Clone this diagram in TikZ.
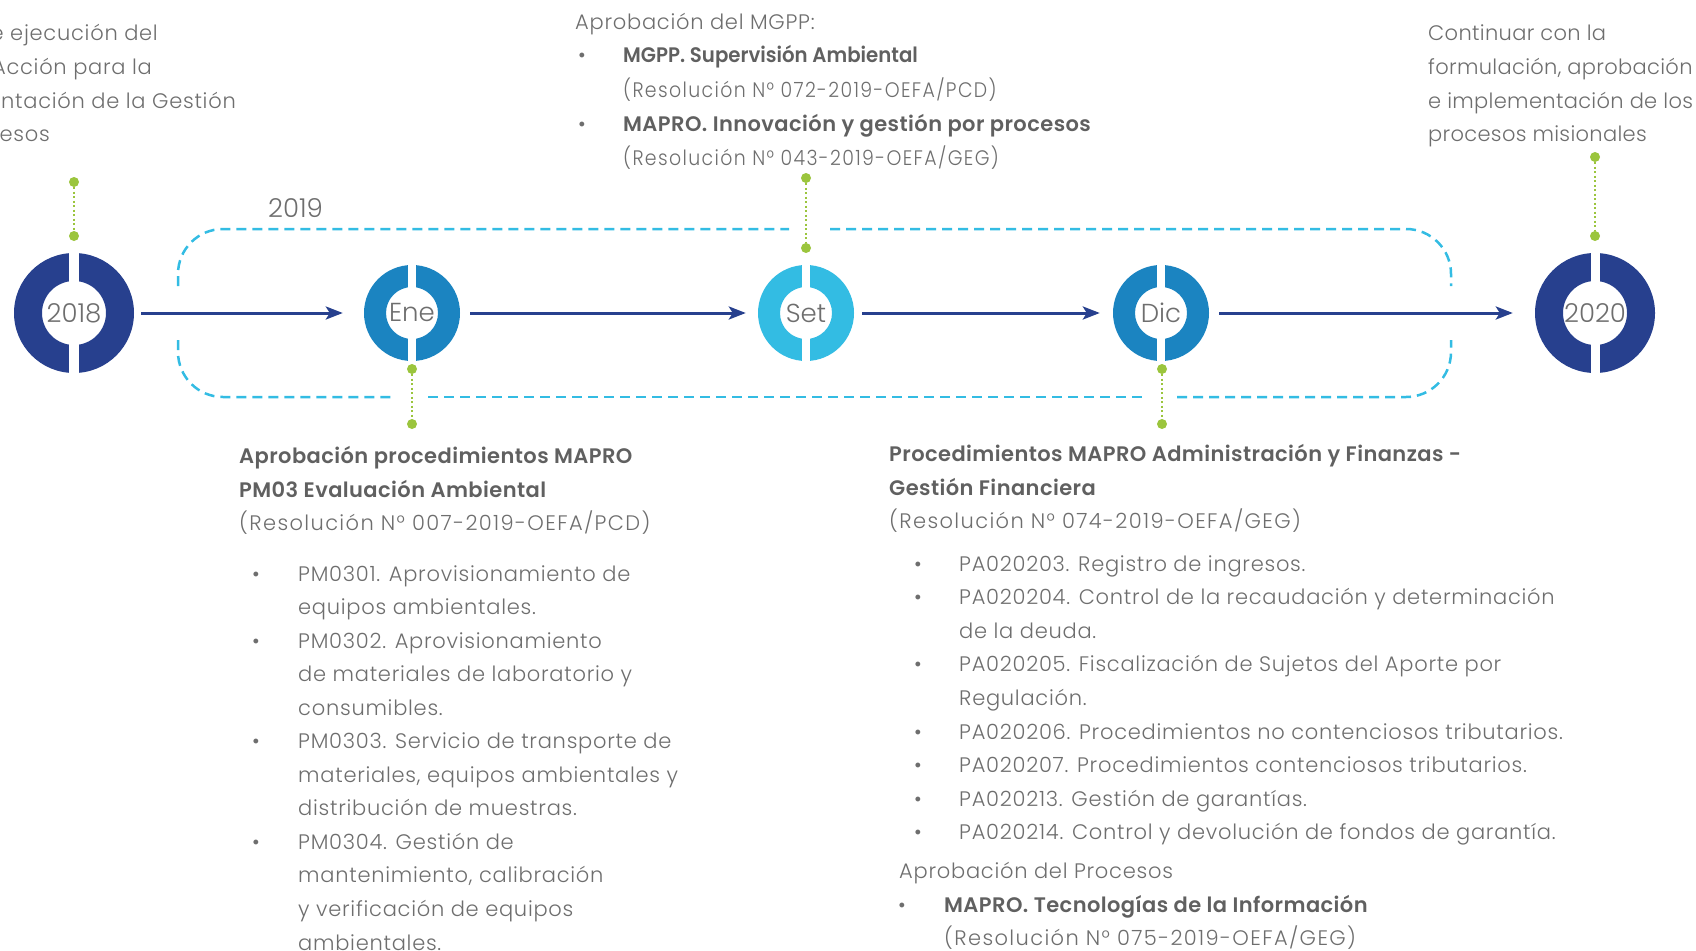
\documentclass[tikz,border=0pt]{standalone}
\usepackage{fontspec}
\setmainfont{Poppins}[UprightFont=* Light, BoldFont=* SemiBold]
\newfontfamily\fbody{Poppins}[UprightFont=* Light, BoldFont=* SemiBold, LetterSpace=3.5]
\newfontfamily\fres{Poppins}[UprightFont=* Light, LetterSpace=6.5]
\newfontfamily\fresc{Poppins}[UprightFont=* Light, LetterSpace=6.5, FakeStretch=0.9]
\newfontfamily\fbold{Poppins}[UprightFont=* SemiBold, LetterSpace=2]
\newfontfamily\fboldc{Poppins}[UprightFont=* SemiBold, FakeStretch=0.94]
\newfontfamily\ftr{Poppins}[UprightFont=* Light, LetterSpace=1.5]
\usetikzlibrary{arrows.meta}
\definecolor{navy}{HTML}{27408E}
\definecolor{midblue}{HTML}{1B84C1}
\definecolor{skyblue}{HTML}{33BCE3}
\definecolor{lime}{HTML}{9BC53D}
\definecolor{txtgray}{HTML}{6E6E6E}
\definecolor{boldgray}{HTML}{606060}
\newcommand\RingShape[6]{%
  \begin{scope}[shift={(#1,#2)}]
    \fill[#5,even odd rule] (0,0) circle[radius=#3] circle[radius=#4];
    \fill[white] (-#6/2,-#3-1) rectangle (#6/2,#3+1);
  \end{scope}}
\begin{document}
\begin{tikzpicture}[x=1pt,y=-1pt,
  txt/.style={anchor=base west, inner sep=0, text=txtgray, font=\fontsize{21}{24}\fbody},
  txtr/.style={txt, font=\fontsize{21}{24}\fres},
  txtrc/.style={txt, font=\fontsize{21}{24}\fresc},
  txtb/.style={txt, text=boldgray, font=\fontsize{21}{24}\fbold},
  txtbc/.style={txt, text=boldgray, font=\fontsize{21}{24}\fboldc},
  txttr/.style={txt, font=\fontsize{21}{24}\ftr},
  ringlbl/.style={circle, inner sep=0, text=txtgray, font=\fontsize{26}{30}\selectfont},
  gdot/.style={circle, fill=lime, inner sep=0, minimum size=10pt},
  gline/.style={lime, line width=2pt, dash pattern=on 2pt off 2.5pt},
  frame/.style={skyblue, line width=2.5pt, dash pattern=on 10pt off 6pt, rounded corners=45pt},
  arr/.style={navy, line width=3pt, -{Stealth[length=17pt,width=13pt,inset=4pt]}}]
\useasboundingbox (0,0) rectangle (1696,950);
\clip (0,0) rectangle (1696,950);

% dashed frame (2019)
\draw[frame] (178,286) -- (178,229) -- (789,229);
\draw[frame] (830,229) -- (1451,229) -- (1451,286);
\draw[frame] (178,340) -- (178,397) -- (396,397);
\draw[frame] (428,397) -- (1145,397);
\draw[frame] (1177,397) -- (1451,397) -- (1451,340);
\node[txt, font=\fontsize{26}{30}\selectfont] (lbl2019) at (268,217) {2019};

% rings
\RingShape{74}{313}{60}{32}{navy}{10}
\RingShape{412}{313}{48}{26}{midblue}{8}
\RingShape{806}{313}{48}{26}{skyblue}{8}
\RingShape{1161}{313}{48}{26}{midblue}{8}
\RingShape{1595}{313}{60}{32}{navy}{9}
\node[ringlbl, minimum size=120pt] (r2018) at (74,313) {2018};
\node[ringlbl, minimum size=96pt] (rEne) at (412,313) {Ene};
\node[ringlbl, minimum size=96pt] (rSet) at (806,313) {Set};
\node[ringlbl, minimum size=96pt] (rDic) at (1161,313) {Dic};
\node[ringlbl, minimum size=120pt] (r2020) at (1595,313) {2020};

% arrows
\draw[arr, shorten <=7pt, shorten >=21pt] (r2018) -- (rEne);
\draw[arr, shorten <=10pt, shorten >=12pt] (rEne) -- (rSet);
\draw[arr, shorten <=8pt, shorten >=13pt] (rSet) -- (rDic);
\draw[arr, shorten <=10pt, shorten >=22pt] (rDic) -- (r2020);

% green connectors
\node[gdot] (g18a) at (74,182) {};
\node[gdot] (g18b) at (74,236) {};
\draw[gline] (g18a) -- (g18b);
\node[gdot] (gEa) at (412,369) {};
\node[gdot] (gEb) at (412,424) {};
\draw[gline] (gEa) -- (gEb);
\node[gdot] (gSa) at (806,178) {};
\node[gdot] (gSb) at (806,248) {};
\draw[gline] (gSa) -- (gSb);
\node[gdot] (gDa) at (1162,369) {};
\node[gdot] (gDb) at (1162,424) {};
\draw[gline] (gDa) -- (gDb);
\node[gdot] (g20a) at (1595,157) {};
\node[gdot] (g20b) at (1595,236) {};
\draw[gline] (g20a) -- (g20b);

% top-left text (cut at the left edge, as in the reference)
\node[txt, anchor=base east] (tl1) at (158,41) {e ejecución del};
\node[txt, anchor=base east] (tl2) at (152,74.5) {Acción para la};
\node[txt, anchor=base east] (tl3) at (236,108) {ntación de la Gestión};
\node[txt, anchor=base east] (tl4) at (50,141) {esos};

% top-centre text
\node[txt] (tc0) at (575,30) {Aprobación del MGPP:};
\node[txt] (tcb1) at (578,63) {•};
\node[txtbc] (tc1) at (623,63) {MGPP. Supervisión Ambiental};
\node[txtrc] (tc2) at (623,97) {(Resolución N° 072-2019-OEFA/PCD)};
\node[txt] (tcb2) at (578,131) {•};
\node[txtb] (tc3) at (623,131) {MAPRO. Innovación y gestión por procesos};
\node[txtrc] (tc4) at (623,165) {(Resolución N° 043-2019-OEFA/GEG)};

% top-right text
\node[txttr] (tr1) at (1428,41) {Continuar con la};
\node[txttr] (tr2) at (1428,74.5) {formulación, aprobación};
\node[txttr] (tr3) at (1428,108) {e implementación de los};
\node[txttr] (tr4) at (1428,141) {procesos misionales};

% bottom-left text
\node[txtb] (bl0a) at (239,463) {Aprobación procedimientos MAPRO};
\node[txtb] (bl0b) at (239,497) {PM03 Evaluación Ambiental};
\node[txtr] (bl0c) at (239,530) {(Resolución N° 007-2019-OEFA/PCD)};
\foreach \t [count=\i] in {PM0301. Aprovisionamiento de, equipos ambientales.,
  PM0302. Aprovisionamiento, de materiales de laboratorio y, consumibles.,
  PM0303. Servicio de transporte de, {materiales, equipos ambientales y},
  distribución de muestras., PM0304. Gestión de, {mantenimiento, calibración},
  y verificación de equipos, ambientales.}
  \node[txt] (bl\i) at (298,{581+33.55*(\i-1)}) {\t};
\foreach \i in {1,3,6,9}
  \node[txt] (blb\i) at (252,{581+33.55*(\i-1)}) {•};

% bottom-right text
\node[txtb] (br0a) at (889,461) {Procedimientos MAPRO Administración y Finanzas -};
\node[txtb] (br0b) at (889,495) {Gestión Financiera};
\node[txtr] (br0c) at (889,528) {(Resolución N° 074-2019-OEFA/GEG)};
\foreach \t [count=\i] in {PA020203. Registro de ingresos.,
  PA020204. Control de la recaudación y determinación, de la deuda.,
  PA020205. Fiscalización de Sujetos del Aporte por, Regulación.,
  PA020206. Procedimientos no contenciosos tributarios.,
  PA020207. Procedimientos contenciosos tributarios.,
  PA020213. Gestión de garantías.,
  PA020214. Control y devolución de fondos de garantía.}
  \node[txt] (br\i) at (959,{571+33.6*(\i-1)}) {\t};
\foreach \i in {1,2,4,6,7,8,9}
  \node[txt] (brb\i) at (914,{571+33.6*(\i-1)}) {•};
\node[txt] (bp0) at (899,878) {Aprobación del Procesos};
\node[txt] (bpb) at (898,912) {•};
\node[txtb] (bp1) at (944,912) {MAPRO. Tecnologías de la Información};
\node[txtr] (bp2) at (944,945) {(Resolución N° 075-2019-OEFA/GEG)};
\end{tikzpicture}
\end{document}
